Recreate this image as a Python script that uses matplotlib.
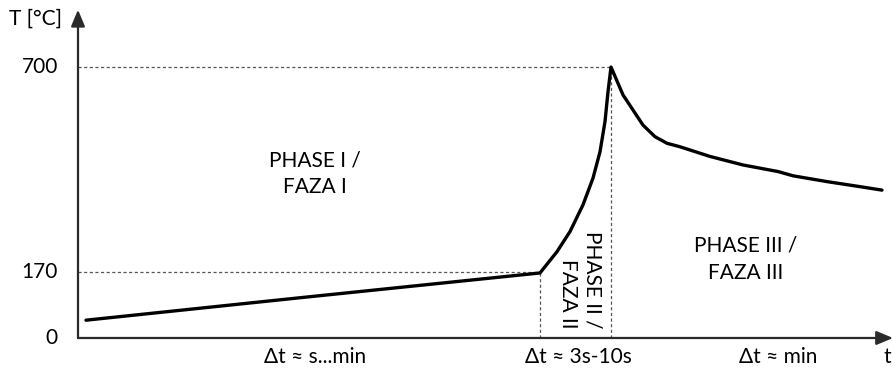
import matplotlib.pyplot as plt

# time in arbitrary units (schematic), temperature in degC
t_vals = [8, 222, 462, 479, 492, 505, 515, 522, 527, 530, 533,
          545, 555, 565, 577, 589, 602, 632, 665, 700, 715, 749, 782, 804]
T_vals = [46, 104, 168, 223, 275, 344, 413, 481, 559, 636, 700,
          628, 589, 550, 520, 503, 494, 469, 447, 430, 419, 404, 391, 382]

t_phase2 = 462
t_peak = 533
T_ticks = [0, 170, 700]
dt_labels = ['Δt ≈ s...min', 'Δt ≈ 3s-10s', 'Δt ≈ min']
dt_pos = [237, 500, 700]

plt.rcParams['font.family'] = ['Lato', 'DejaVu Sans']
fs = 15

fig = plt.figure(figsize=(8.93, 3.76), dpi=100)
ax = fig.add_axes([0, 0, 1, 1])
ax.set_xlim(-78, 815)
ax.set_ylim(-98.2, 873.2)
ax.axis('off')

axis_col = '#2a2a2a'
arrow = dict(arrowstyle='-|>,head_length=1.0,head_width=0.42', color=axis_col,
             lw=1.6, shrinkA=0, shrinkB=0)
ax.annotate('', xy=(0, 848), xytext=(0, 0), arrowprops=arrow)
ax.annotate('', xy=(815, 0), xytext=(0, 0), arrowprops=arrow)

# guide lines
dot = dict(color='#555555', lw=0.9, ls=(0, (2.5, 2)))
ax.plot([0, t_peak], [700, 700], **dot)
ax.plot([0, t_phase2], [170, 170], **dot)
ax.plot([t_phase2, t_phase2], [0, 170], **dot)
ax.plot([t_peak, t_peak], [0, 700], **dot)

# curve
ax.plot(t_vals, T_vals, color='black', lw=2.4, solid_joinstyle='round', solid_capstyle='round')

# tick labels
for v in T_ticks:
    ax.text(-20, v, str(v), ha='right', va='center', fontsize=fs)
ax.text(-16, 825, 'T [°C]', ha='right', va='center', fontsize=fs)
ax.text(809, -50, 't', ha='center', va='center', fontsize=fs)

for lab, x in zip(dt_labels, dt_pos):
    ax.text(x, -50, lab, ha='center', va='center', fontsize=fs)

ax.text(237, 424, 'PHASE I /\nFAZA I', ha='center', va='center', fontsize=fs, linespacing=1.45)
ax.text(668, 204, 'PHASE III /\nFAZA III', ha='center', va='center', fontsize=fs, linespacing=1.45)
ax.text(502, 150, 'PHASE II /\nFAZA II', ha='center', va='center', fontsize=fs,
        rotation=-90, multialignment='right', linespacing=1.3)

fig.savefig('out.png', dpi=100)
